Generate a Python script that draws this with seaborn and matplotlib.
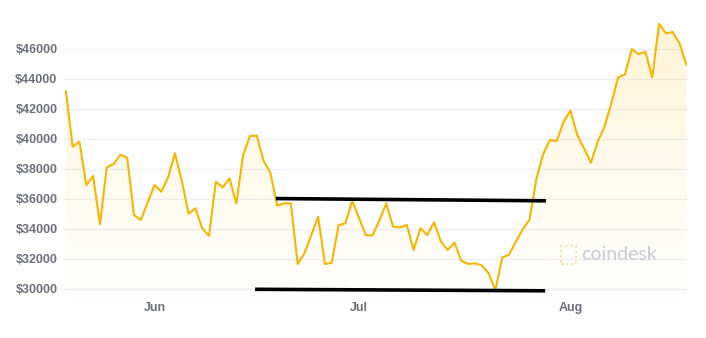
import numpy as np
import pandas as pd
import matplotlib
matplotlib.use("Agg")
import matplotlib.pyplot as plt
import matplotlib.dates as mdates
from matplotlib.patches import Rectangle
import seaborn as sns

# ---- data ----
start_date = "2021-05-19"
prices = [43180, 39470, 39800, 36910, 37510, 34310, 38090, 38310, 38930, 38730,
          34910, 34580, 35760, 36910, 36470, 37430, 39030, 37200, 35000, 35360,
          34030, 33520, 37130, 36750, 37360, 35690, 38910, 40180, 40200, 38530,
          37730, 35530, 35690, 35690, 31650, 32360, 33580, 34800, 31650, 31730,
          34230, 34360, 35870, 34710, 33560, 33560, 34580, 35690, 34130, 34090,
          34250, 32580, 34030, 33580, 34430, 33150, 32580, 33070, 31850, 31650,
          31690, 31560, 31030, 29910, 32070, 32270, 33130, 33960, 34600, 37300,
          38970, 39910, 39850, 41130, 41870, 40250, 39360, 38400, 39800, 40800,
          42360, 44090, 44280, 45980, 45630, 45800, 44090, 47650, 47030, 47110,
          46360, 44960]
y_ticks = [30000, 32000, 34000, 36000, 38000, 40000, 42000, 44000, 46000]
month_ticks = ["2021-06-01", "2021-07-01", "2021-08-01"]
month_labels = ["Jun", "Jul", "Aug"]
resist_dates = ["2021-06-18 19:00", "2021-07-28 10:00"]
resist_vals = [36010, 35860]
support_dates = ["2021-06-15 18:00", "2021-07-28 07:00"]
support_vals = [29960, 29860]

dates = pd.date_range(start_date, periods=len(prices), freq="D")
df = pd.DataFrame({"date": dates, "price": prices})

sns.set_theme(style="white")
plt.rcParams['font.family'] = ['Liberation Sans', 'DejaVu Sans']

fig = plt.figure(figsize=(7.06, 3.38), dpi=100)
ax = fig.add_axes([63/706, 40/338, 624/706, 288/338])

ylo, yhi = 29380, 48580
x0 = dates[0] - pd.Timedelta(hours=10)
x1 = dates[0] + pd.Timedelta(days=91.1)
ax.set_xlim(x0, x1)
ax.set_ylim(ylo, yhi)

# gradient fill under the line
poly = ax.fill_between(dates, prices, ylo, color="none", lw=0)
grad = np.linspace(0.0, 1.0, 256)
rgba = np.zeros((256, 1, 4))
rgba[..., 0] = 0.99
rgba[..., 1] = 0.80
rgba[..., 2] = 0.25
rgba[:, 0, 3] = grad ** 1.1 * 0.22
im = ax.imshow(rgba, extent=[mdates.date2num(x0), mdates.date2num(x1), 28500, 48000],
               origin="lower", aspect="auto", zorder=1)
path = poly.get_paths()[0]
im.set_clip_path(path, ax.transData)

sns.lineplot(data=df, x="date", y="price", ax=ax, color="#f7b500", lw=1.5, zorder=3)

# annotation lines
ax.plot(pd.to_datetime(resist_dates), resist_vals, color="black", lw=2.6,
        solid_capstyle="butt", zorder=4)
ax.plot(pd.to_datetime(support_dates), support_vals, color="black", lw=2.6,
        solid_capstyle="butt", zorder=4)

ax.set_yticks(y_ticks)
ax.set_yticklabels([f"${v}" for v in y_ticks])
ax.set_xticks(pd.to_datetime(month_ticks))
ax.set_xticklabels(month_labels)
ax.tick_params(axis="both", length=0, labelcolor="#6b707c", labelsize=9)
ax.tick_params(axis="y", pad=4)
ax.tick_params(axis="x", pad=3)
for lab in ax.get_yticklabels() + ax.get_xticklabels():
    lab.set_fontweight("bold")
ax.grid(axis="y", color="#eceef4", lw=1)
ax.grid(axis="x", visible=False)
for s in ax.spines.values():
    s.set_visible(False)
ax.set_xlabel("")
ax.set_ylabel("")

# watermark
fig.text(581/706, 1 - 255/338, "coindesk", color="#c9ccd6", fontsize=14,
         ha="left", va="center", family=["Lato", "DejaVu Sans"])
fig.patches.append(Rectangle((561/706, 1 - 264/338), 15/706, 18/338,
                             transform=fig.transFigure, fill=False,
                             edgecolor="#f7e3a8", lw=1.5, ls=(0, (1, 1.5))))

fig.savefig("out.png", dpi=100)
